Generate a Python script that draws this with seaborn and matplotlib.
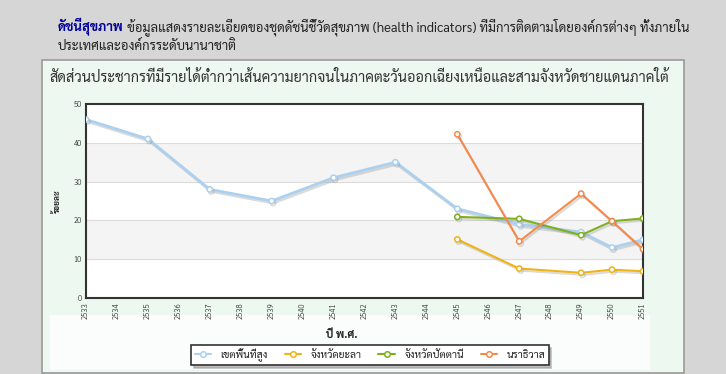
import matplotlib
matplotlib.use("Agg")
import matplotlib.pyplot as plt
import matplotlib.patheffects as pe
from matplotlib.lines import Line2D
from matplotlib.patches import Rectangle
import pandas as pd
import seaborn as sns

# ข้อมูล (อ่านจากกราฟ)
years = [str(y) for y in range(2533, 2552)]
highland_years = ["2533", "2535", "2537", "2539", "2541", "2543", "2545", "2547", "2549", "2550", "2551"]
highland = [46, 41, 28, 25, 31, 35, 23, 19, 17, 13, 15]
south_years = ["2545", "2547", "2549", "2550", "2551"]
yala = [15.1, 7.6, 6.5, 7.3, 6.9]
pattani = [20.9, 20.4, 16.2, 19.8, 20.5]
narathiwat = [42.2, 14.6, 26.9, 19.8, 12.6]

series_names = ["เขตพื้นที่สูง", "จังหวัดยะลา", "จังหวัดปัตตานี", "นราธิวาส"]
colors = ["#acd0ef", "#f2b316", "#7cb01c", "#f58a4b"]

rows = []
for name, ys, vals in [(series_names[0], highland_years, highland),
                       (series_names[1], south_years, yala),
                       (series_names[2], south_years, pattani),
                       (series_names[3], south_years, narathiwat)]:
    for y, v in zip(ys, vals):
        rows.append({"series": name, "pos": years.index(y), "value": v})
df = pd.DataFrame(rows)

sns.set_style("white")
plt.rcParams["font.family"] = ["Sarabun", "Noto Sans Thai", "DejaVu Sans"]

W, H = 726, 374
fig = plt.figure(figsize=(W / 100, H / 100), dpi=100, facecolor="#d6d6d6")

# กล่องพื้นหลังของกราฟ
fig.patches.append(Rectangle((42 / W, 1 - 373 / H), 642 / W, 313 / H, transform=fig.transFigure,
                             facecolor="#edf8f1", edgecolor="#9a9a9a", linewidth=1.2, zorder=-2))
fig.patches.append(Rectangle((50 / W, 1 - 370 / H), 600 / W, 55 / H, transform=fig.transFigure,
                             facecolor="#fbfdfc", edgecolor="none", zorder=-1))

# ส่วนหัว
head = fig.text(58 / W, 1 - 27 / H, "ดัชนีสุขภาพ", fontsize=9.4, fontweight="bold",
                color="#000099", va="center", ha="left")
fig.add_artist(matplotlib.text.Annotation(
    " ข้อมูลแสดงรายละเอียดของชุดดัชนีชี้วัดสุขภาพ (health indicators) ที่มีการติดตามโดยองค์กรต่างๆ ทั้งภายใน",
    xy=(1, 0.5), xycoords=head, va="center", ha="left", fontsize=9.4, color="#222222"))
fig.text(58 / W, 1 - 46 / H, "ประเทศและองค์กรระดับนานาชาติ", fontsize=9.4,
         color="#222222", va="center", ha="left")

fig.text(50 / W, 1 - 78 / H,
         "สัดส่วนประชากรที่มีรายได้ต่ำกว่าเส้นความยากจนในภาคตะวันออกเฉียงเหนือและสามจังหวัดชายแดนภาคใต้",
         fontsize=10.4, color="#333333", va="center", ha="left")

ax = fig.add_axes([86 / W, 1 - 298 / H, 557 / W, 194 / H])
ax.set_facecolor("white")
for lo, hi in [(10, 20), (30, 40)]:
    ax.axhspan(lo, hi, color="#f4f4f4", zorder=0, lw=0)
for yv in [10, 20, 30, 40]:
    ax.axhline(yv, color="#dcdcdc", lw=0.8, zorder=0.5)

sns.lineplot(data=df, x="pos", y="value", hue="series", hue_order=series_names,
             palette=colors, marker="o", markersize=3.8, linewidth=1.5, legend=False, ax=ax)

shadow = [pe.SimpleLineShadow(offset=(1, -1.5), shadow_color="#888888", alpha=0.3), pe.Normal()]
for line, c in zip(ax.lines[-4:], colors):
    line.set_markerfacecolor("white")
    line.set_markeredgecolor(c)
    line.set_markeredgewidth(1.1)
    line.set_path_effects(shadow)
    line.set_zorder(3)
ax.lines[-4].set_linewidth(2)

ax.set_xlim(0, len(years) - 1)
ax.set_ylim(0, 50)
ax.set_xticks(range(len(years)))
ax.set_xticklabels(years, rotation=90, fontsize=5.5, color="#444444")
ax.set_yticks([0, 10, 20, 30, 40, 50])
ax.set_yticklabels([0, 10, 20, 30, 40, 50], fontsize=5.5, color="#444444")
ax.tick_params(axis="both", length=0, pad=3)
for s in ax.spines.values():
    s.set_color("#333333")
    s.set_linewidth(1.5)

ax.set_xlabel("ปี พ.ศ.", fontsize=8, fontweight="bold", color="#222222")
ax.xaxis.set_label_coords((342 - 86) / 557, -(329 - 298) / 194)
ax.set_ylabel("ร้อยละ", fontsize=6, fontweight="bold", color="#222222")
ax.yaxis.set_label_coords(-(86 - 62) / 557, 0.5)

handles = [Line2D([], [], color=c, lw=1.5, marker="o", markersize=4, markerfacecolor="white",
                  markeredgecolor=c, markeredgewidth=1.1) for c in colors]
leg = fig.legend(handles, series_names, loc="center", ncol=4,
                 bbox_to_anchor=(370 / W, 1 - 355 / H), fontsize=7.5, frameon=True,
                 fancybox=False, shadow={"color": "#999999", "alpha": 0.6},
                 handlelength=1.6, columnspacing=1.6, handletextpad=0.9, borderpad=0.3)
leg.get_frame().set_edgecolor("#333333")
leg.get_frame().set_linewidth(1.2)
leg.get_frame().set_facecolor("white")
for txt in leg.get_texts():
    txt.set_color("#222222")

fig.savefig("out.png", dpi=100, facecolor=fig.get_facecolor())
